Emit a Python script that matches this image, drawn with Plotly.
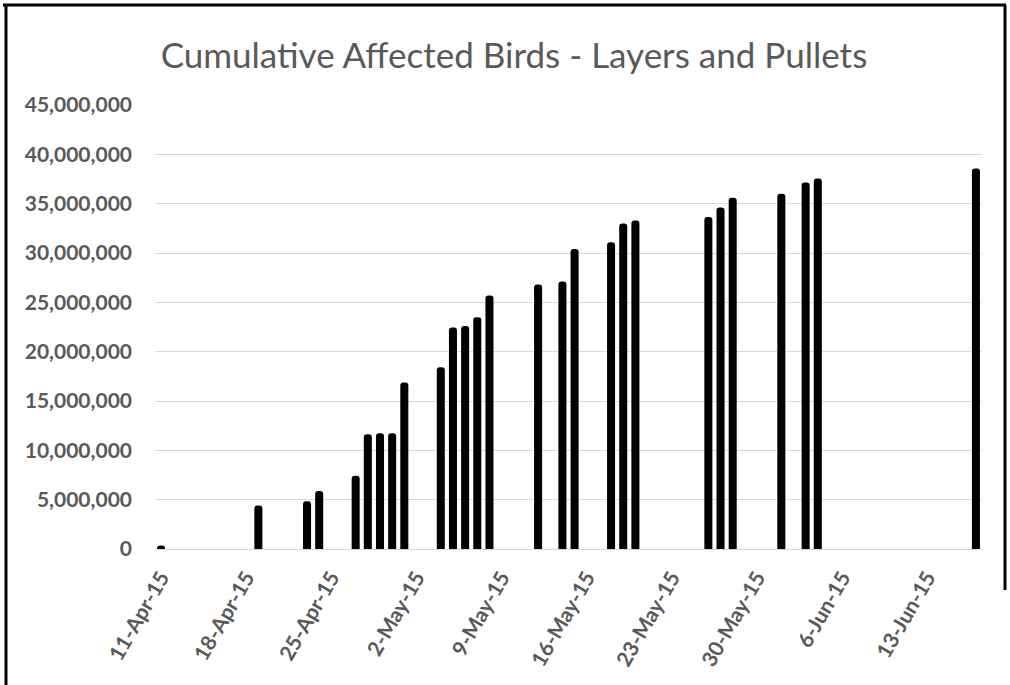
import plotly.graph_objects as go

# ---- data ----
report_dates = ['2015-04-11', '2015-04-19', '2015-04-23', '2015-04-24', '2015-04-27',
                '2015-04-28', '2015-04-29', '2015-04-30', '2015-05-01', '2015-05-04',
                '2015-05-05', '2015-05-06', '2015-05-07', '2015-05-08', '2015-05-12',
                '2015-05-14', '2015-05-15', '2015-05-18', '2015-05-19', '2015-05-20',
                '2015-05-26', '2015-05-27', '2015-05-28', '2015-06-01', '2015-06-03',
                '2015-06-04', '2015-06-17']
cumulative_birds = [350000, 4420000, 4830000, 5880000, 7430000,
                    11620000, 11720000, 11720000, 16870000, 18430000,
                    22450000, 22600000, 23500000, 25700000, 26800000,
                    27100000, 30400000, 31100000, 33000000, 33300000,
                    33650000, 34600000, 35600000, 36000000, 37150000,
                    37550000, 38570000]
tick_dates = ['2015-04-11', '2015-04-18', '2015-04-25', '2015-05-02', '2015-05-09',
              '2015-05-16', '2015-05-23', '2015-05-30', '2015-06-06', '2015-06-13']
tick_labels = ['11-Apr-15', '18-Apr-15', '25-Apr-15', '2-May-15', '9-May-15',
               '16-May-15', '23-May-15', '30-May-15', '6-Jun-15', '13-Jun-15']
y_ticks = [0, 5000000, 10000000, 15000000, 20000000, 25000000,
           30000000, 35000000, 40000000, 45000000]
title_text = 'Cumulative Affected Birds - Layers and Pullets'

# ---- figure ----
W, H = 1010, 685
L, R, T, B = 155, 28, 105, 136
pw, ph = W - L - R, H - T - B

def px_x(p):
    return (p - L) / pw

def px_y(p):
    return (H - B - p) / ph

day_ms = 86400000
fig = go.Figure(go.Bar(
    x=report_dates, y=cumulative_birds,
    width=0.66 * day_ms,
    marker=dict(color='#000000', line=dict(width=0), cornerradius=3),
    hoverinfo='x+y',
))

gray = '#595959'
fig.update_layout(
    width=W, height=H,
    margin=dict(l=L, r=R, t=T, b=B, autoexpand=False),
    paper_bgcolor='white', plot_bgcolor='white',
    showlegend=False,
    title=dict(text=title_text, x=514 / W, xanchor='center',
               y=1 - 56 / H, yanchor='middle',
               font=dict(family='Lato', size=35, color=gray)),
    xaxis=dict(
        type='date',
        range=['2015-04-10 12:00', '2015-06-17 12:00'],
        tickvals=tick_dates, ticktext=tick_labels,
        tickangle=-60,
        tickfont=dict(family='Lato', size=21, color=gray, weight='bold'),
        showgrid=False, zeroline=False,
        showline=True, linecolor='#d9d9d9', linewidth=1,
        ticks='', ticklabelstandoff=7,
    ),
    yaxis=dict(
        range=[0, 45000000],
        tickvals=y_ticks, tickformat=',d',
        tickfont=dict(family='Lato', size=21, color=gray, weight='bold'),
        showgrid=True, gridcolor='#d9d9d9', gridwidth=1,
        zeroline=False, showline=False, ticks='',
        ticklabelstandoff=22,
    ),
    shapes=[
        dict(type='line', xref='paper', yref='paper',
             x0=px_x(3), x1=px_x(1006), y0=px_y(5), y1=px_y(5),
             line=dict(color='black', width=3)),
        dict(type='line', xref='paper', yref='paper',
             x0=px_x(6), x1=px_x(6), y0=px_y(5), y1=px_y(690),
             line=dict(color='black', width=3)),
        dict(type='line', xref='paper', yref='paper',
             x0=px_x(1005), x1=px_x(1005), y0=px_y(5), y1=px_y(590),
             line=dict(color='black', width=3)),
    ],
)

fig.write_html('out.html',
               config={'displayModeBar': False},
               post_script="document.body.style.margin='0';document.body.style.overflow='hidden';")
